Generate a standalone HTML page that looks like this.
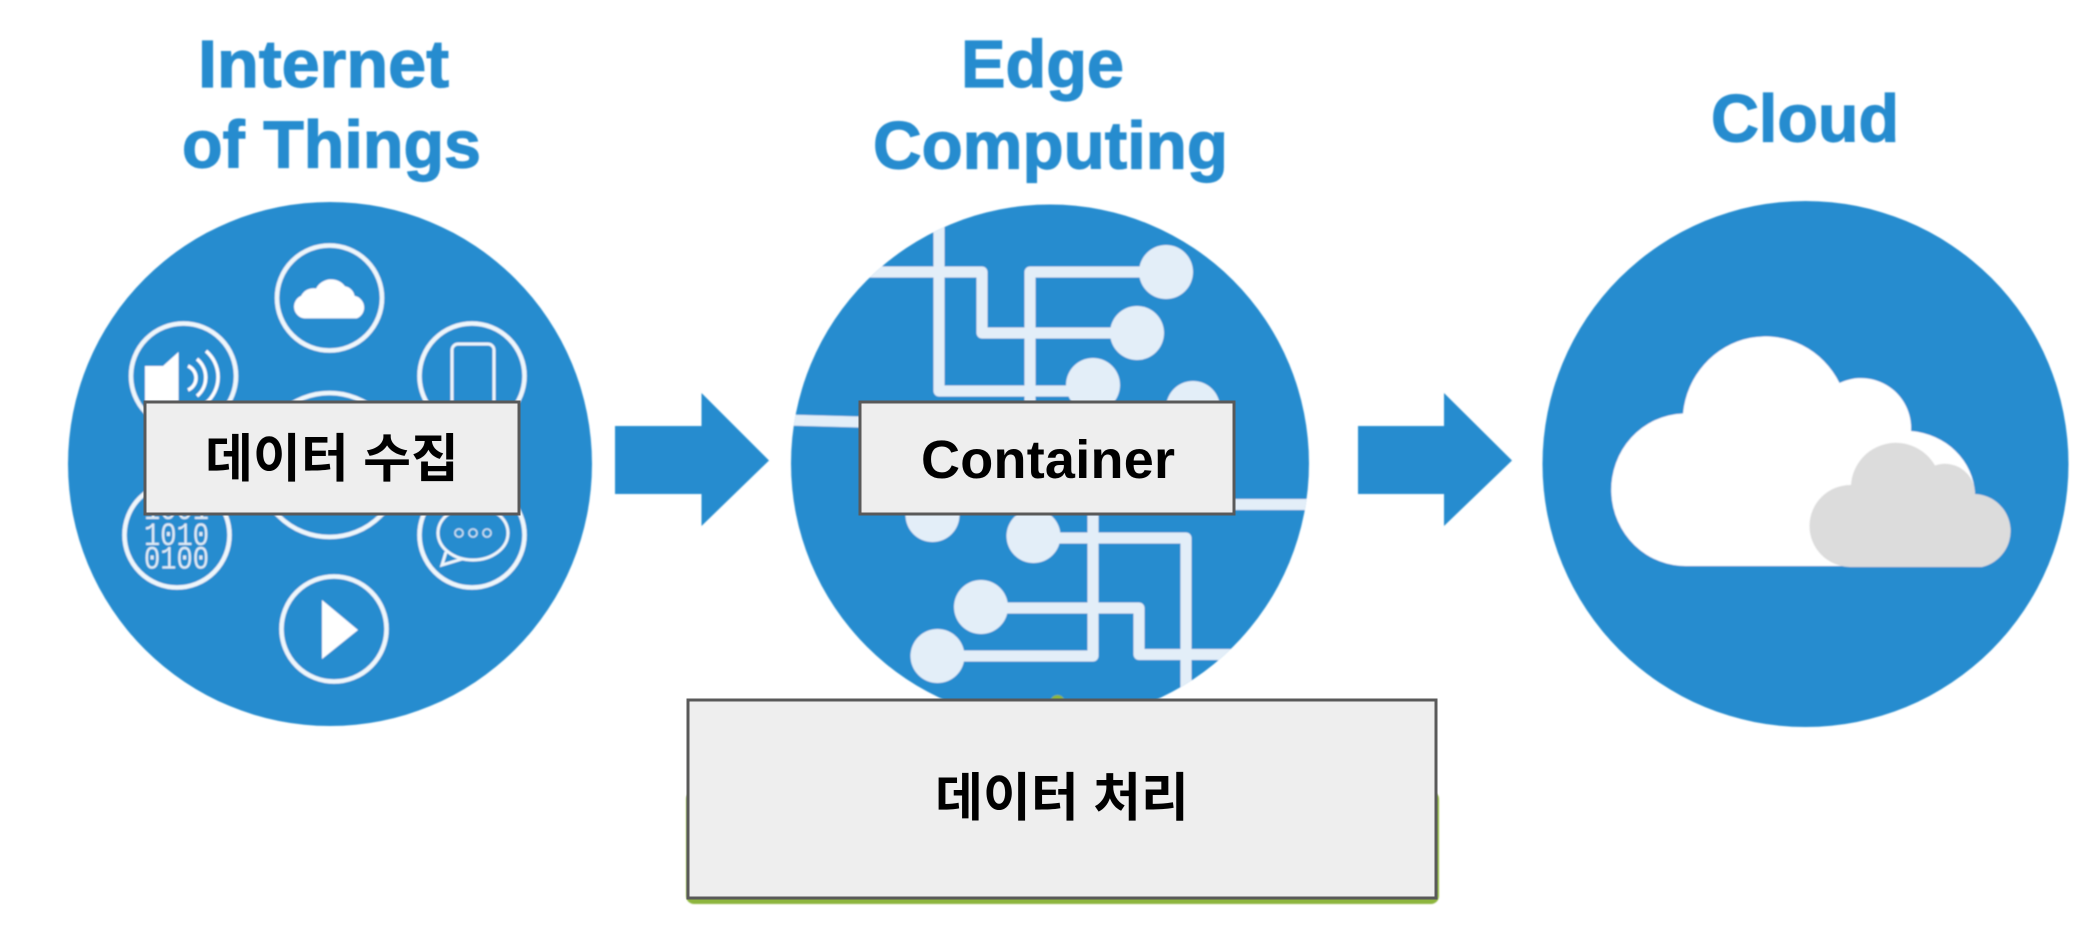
<!DOCTYPE html>
<html lang="ko"><head><meta charset="utf-8"><title>IoT Edge Cloud</title>
<style>
html,body{margin:0;padding:0;background:#fff}
svg{display:block}
.t{font-family:"Liberation Sans",Arial,sans-serif;font-weight:700;font-size:67px;fill:#268ccf;stroke:#268ccf;stroke-width:1.2px}
.k{font-family:"Liberation Sans","Noto Sans CJK KR",sans-serif;font-weight:700;font-size:52px;fill:#000}
</style></head><body>
<svg width="2098" height="944" viewBox="0 0 2098 944" xmlns="http://www.w3.org/2000/svg">
<defs>
<filter id="b" x="-5%" y="-5%" width="110%" height="110%"><feGaussianBlur stdDeviation="0.9"/></filter>
<clipPath id="c2"><circle cx="1050" cy="463.5" r="259"/></clipPath>
</defs>
<rect width="2098" height="944" fill="#fff"/>
<g filter="url(#b)">
<text class="t" x="198" y="87" textLength="251" lengthAdjust="spacingAndGlyphs">Internet</text>
<text class="t" x="182" y="167.5" textLength="299" lengthAdjust="spacingAndGlyphs">of Things</text>
<text class="t" x="961" y="87" textLength="163" lengthAdjust="spacingAndGlyphs">Edge</text>
<text class="t" x="873" y="168.5" textLength="355" lengthAdjust="spacingAndGlyphs">Computing</text>
<text class="t" x="1711" y="141.5" textLength="188" lengthAdjust="spacingAndGlyphs">Cloud</text>

<!-- circle 1 -->
<circle cx="330" cy="464" r="262" fill="#268ccf"/>
<g fill="none" stroke="#eef6fb" stroke-width="4.5">
<circle cx="329.5" cy="298" r="52.5"/>
<circle cx="183.5" cy="376" r="52.5"/>
<circle cx="472" cy="376" r="52.5"/>
<circle cx="329.5" cy="465" r="72"/>
<circle cx="177" cy="535" r="52.5"/>
<circle cx="472" cy="535" r="52.5"/>
<circle cx="334" cy="629" r="52.5"/>
</g>
<path fill="#fff" transform="translate(330 297) scale(1.07) translate(-330 -297)" d="M306,317a11,11 0 0 1-3-21a13,13 0 0 1 14-7a16,16 0 0 1 27-2a11,11 0 0 1 9,9a11,11 0 0 1 2,21z"/>
<path fill="#fff" d="M145,366H163L178.5,352V401H145z"/>
<g fill="none" stroke="#fff" stroke-width="3.5">
<path d="M188,366a13,13 0 0 1 0,24"/><path d="M197,359a24,24 0 0 1 0,37"/><path d="M206,351a34,34 0 0 1 0,52"/>
</g>
<g fill="none" stroke="#eef6fb" stroke-width="3">
<path d="M452,401V350a6,6 0 0 1 6-6h30a6,6 0 0 1 6,6v51"/>
<ellipse cx="473" cy="533" rx="35" ry="27"/>
<path d="M446,552L442,565L462,559"/>
</g>
<g fill="none" stroke="#cfe3f3" stroke-width="1.6"><circle cx="459" cy="533" r="4"/><circle cx="473" cy="533" r="4"/><circle cx="487" cy="533" r="4"/></g>
<g font-family="Liberation Mono,monospace" font-size="32" fill="#dfecf6" text-anchor="start">
<text x="144" y="519" textLength="65" lengthAdjust="spacingAndGlyphs">1001</text><text x="144" y="545" textLength="65" lengthAdjust="spacingAndGlyphs">1010</text><text x="144" y="568.5" textLength="65" lengthAdjust="spacingAndGlyphs">0100</text>
</g>
<path fill="#fff" d="M322,600L358,630L322,659z"/>

<!-- arrows -->
<path fill="#268ccf" d="M615,426H701.5V393L769,460.5L701.5,526V494H615z"/>
<path fill="#268ccf" d="M1358,426H1444V393L1512,460.5L1444,526V494H1358z"/>

<!-- circle 2 -->
<circle cx="1050" cy="463.5" r="259" fill="#268ccf"/>
<g clip-path="url(#c2)">
<g fill="none" stroke="#e3eef8" stroke-width="11" stroke-linejoin="round">
<path d="M939,200V391H1093"/>
<path d="M860,272H982V333H1137"/>
<path d="M1030,401V272H1166"/>
<path d="M785,420L860,422"/>
<path d="M1234,504.5H1315"/>
<path d="M1033,538H1186V730"/>
<path d="M1093,515V656H938"/>
<path d="M981,608H1139V654.5H1240"/>
</g>
<g fill="#e3eef8">
<circle cx="1166" cy="272" r="27"/><circle cx="1137" cy="333" r="27"/><circle cx="1093" cy="385" r="27"/><circle cx="1193" cy="408" r="27"/>
<circle cx="932.5" cy="515" r="27"/><circle cx="1033.5" cy="536" r="27"/><circle cx="981" cy="607" r="27"/><circle cx="937.5" cy="656" r="27"/>
</g>
</g>

<!-- circle 3 -->
<circle cx="1805.5" cy="464" r="263" fill="#268ccf"/>
<path fill="#fff" d="M1688,566A74,76 0 0 1 1683,413.5A83,85.5 0 0 1 1839.5,383A50,50 0 0 1 1911,431A70,66 0 0 1 1975,494V566z"/>
<path fill="#dcdcdc" d="M1850,567A41,41 0 0 1 1851,485A45,45 0 0 1 1935,465.5A30,30 0 0 1 1975,494A37,37 0 0 1 1982,567z"/>

<!-- green panel -->
<rect x="686" y="791" width="753" height="113" rx="8" fill="#8db53c"/>
<circle cx="1057.5" cy="702" r="7" fill="#8db53c"/>
</g>

<!-- overlay boxes -->
<g fill="#eeeeee" stroke="#595959" stroke-width="3">
<rect x="145" y="402" width="374" height="112"/>
<rect x="860" y="402" width="374" height="112"/>
<rect x="688" y="700" width="748" height="198"/>
</g>
<text class="k" x="332" y="477" text-anchor="middle">데이터 수집</text>
<text x="921" y="478" textLength="254" font-family="Liberation Sans,Arial,sans-serif" font-weight="700" font-size="54" fill="#000">Container</text>
<text class="k" x="1062" y="816" text-anchor="middle">데이터 처리</text>
</svg>
</body></html>
